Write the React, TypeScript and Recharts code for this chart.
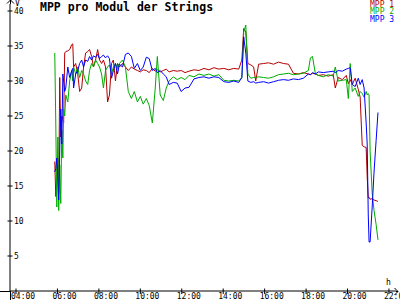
import { LineChart, Line, XAxis, YAxis, Legend } from 'recharts';

// Zeit in Stunden (dezimal)
const hours = [
  5.87, 5.92, 5.97, 6.02, 6.06, 6.11, 6.16, 6.21, 6.26, 6.30, 6.35, 6.40, 6.50, 6.59, 6.69, 6.74, 6.78, 6.88, 6.98,
  7.07, 7.17, 7.26, 7.36, 7.46, 7.55, 7.65, 7.74, 7.84, 7.94, 8.03, 8.13, 8.22, 8.32, 8.42, 8.51, 8.61, 8.70, 8.80,
  8.90, 8.99, 9.14, 9.28, 9.42, 9.57, 9.71, 9.86, 10.00, 10.14, 10.29, 10.43, 10.58, 10.72, 10.82, 10.96, 11.11,
  11.25, 11.39, 11.59, 11.78, 11.97, 12.16, 12.35, 12.59, 12.83, 13.07, 13.31, 13.55, 13.79, 14.03, 14.27, 14.51,
  14.75, 14.90, 14.99, 15.09, 15.19, 15.33, 15.47, 15.57, 15.71, 15.95, 16.19, 16.43, 16.67, 16.91, 17.15, 17.39,
  17.63, 17.87, 18.11, 18.21, 18.31, 18.45, 18.59, 18.83, 19.07, 19.31, 19.41, 19.55, 19.75, 19.94, 20.04, 20.13,
  20.23, 20.37, 20.52, 20.61, 20.71, 20.80, 20.90, 20.95, 21.00, 21.04, 21.09, 21.19, 21.28, 21.38, 21.47,
];

// Spannung in V
const mpp1 = [
  18.5, 13.5, 16, 19, 14, 30.5, 22, 25, 24.5, 24, 34, 34.2, 34.3, 34.5, 35.2, 35.3, 32, 32.5, 31,
  28.5, 29, 32, 34, 34.2, 34.5, 33.5, 32, 33, 34.5, 33, 32.5, 33, 32, 27, 28, 32.5, 33, 30,
  32.5, 32, 32.5, 32, 31.5, 32, 31.7, 31.5, 31.3, 31.6, 31.5, 31.2, 31.8, 31.4, 31.6, 31.3, 31.5,
  31.7, 31.3, 31.5, 31.4, 31.5, 31.2, 31.4, 31.6, 31.5, 31.8, 31.6, 31.9, 31.7, 31.8, 31.6, 31.8,
  31.7, 33, 37.5, 37, 32.5, 32.3, 32, 30, 32.4, 32.5, 32.6, 32.4, 32.7, 32.5, 32.4, 31.1,
  31, 31.2, 31, 30.9, 31.1, 31, 30.8, 30.9, 30.7, 30.9, 29, 30.5, 30.2, 30.8, 29.6, 30.2,
  29.5, 30.4, 28.8, 27.7, 20.8, 20.6, 20.5, 16.3, 13.3, 13.4, 13.1, 13.2, 13, 12.9, 12.8,
];

const mpp2 = [
  34, 24, 12, 22, 11.5, 18, 12.5, 23, 19, 26, 25, 28, 27, 30, 31.5, 30, 32, 31, 32,
  30.5, 31.5, 31, 30, 29.5, 31.5, 32.5, 32, 33, 32.5, 32, 31, 29, 31.5, 32, 32.3, 31, 32, 32.5,
  31.8, 32.5, 33, 32, 28.5, 27.5, 28.5, 27, 27.8, 26.7, 27.5, 26.5, 24, 29, 33.5, 28, 27.2,
  29, 30, 30.6, 30.2, 30.5, 30.2, 30.8, 30.6, 31, 30.8, 31, 30.7, 30.9, 30.1, 30, 30.1,
  30, 30.5, 37, 38, 31, 30.4, 30.5, 30.5, 30.6, 30.5, 30.4, 30.6, 30.9, 31, 31.1, 30.9,
  31, 31.1, 31.5, 33.3, 33.5, 31, 30.8, 30.6, 30.9, 30.7, 32, 30, 30.1, 30.2, 27.5, 32.5,
  28.5, 29, 27.8, 28.5, 28.2, 27.7, 28.5, 28, 28.2, 28, 20, 14, 11.5, 9.5, 7.3,
];

const mpp3 = [
  17, 17.5, 19, 16, 13, 20, 26, 21, 31, 30, 28.5, 29, 32, 30.5, 31.5, 31.8, 29, 31, 31.5,
  32.5, 33, 32, 33, 32.8, 33.5, 33, 33.6, 33.4, 33.8, 33.2, 33.5, 33.7, 33.3, 33.6, 33.2, 30.4, 31.5, 32.5,
  31, 32.4, 32, 33.8, 34, 33.5, 31.8, 32.5, 31.5, 32, 33.4, 33.2, 31.5, 31.8, 31.2, 31.5, 31,
  30.6, 29.5, 29.8, 29.7, 28.5, 29, 29.1, 30.3, 30.5, 30.6, 30.4, 30.6, 30.5, 29.9, 29.8, 30,
  29.8, 30.5, 36.3, 34, 30, 29.8, 29.9, 29.7, 29.8, 29.9, 29.7, 29.9, 30.1, 30.2, 30.1, 30.3,
  30.2, 30.4, 31, 30.9, 31.2, 31, 31.3, 31.2, 31.3, 31.4, 31.2, 31.5, 31.4, 31.7, 31.8, 31.9,
  29.5, 29.2, 30.4, 29.5, 30.2, 29, 24, 21, 11, 7, 7, 12, 17, 21.5, 25.5,
];

const xTicks = [4, 6, 8, 10, 12, 14, 16, 18, 20, 22];
const yTicks = [5, 10, 15, 20, 25, 30, 35, 40];

const data = hours.map((t, i) => ({ t, mpp1: mpp1[i], mpp2: mpp2[i], mpp3: mpp3[i] }));

const FONT = '"DejaVu Sans Mono", monospace';

const XTick = (props: any) => {
  const { x, y, payload } = props;
  return (
    <g>
      <line x1={x} x2={x} y1={y - 2.5} y2={y + 3} stroke="#000" />
      <text x={x - 5} y={y + 8} fontSize={8} fontFamily={FONT} fill="#000">
        {String(payload.value).padStart(2, '0')}:00
      </text>
    </g>
  );
};

const YTick = (props: any) => {
  const { x, y, payload } = props;
  return (
    <g>
      <line x1={x - 2.5} x2={x + 2.5} y1={y} y2={y} stroke="#000" />
      <text x={x + 4} y={y + 3} fontSize={8} fontFamily={FONT} fill="#000">
        {payload.value}
      </text>
    </g>
  );
};

const LegendBox = (props: any) => (
  <div style={{ fontFamily: FONT, fontSize: 8, lineHeight: '7.5px', textAlign: 'left' }}>
    {(props.payload || []).map((e: any) => (
      <div key={e.value} style={{ color: e.color, whiteSpace: 'pre' }}>{e.value}</div>
    ))}
  </div>
);

export default function App() {
  return (
    <div style={{ position: 'absolute', left: 0, top: 0, width: 400, height: 300, background: '#fff' }}>
      <LineChart width={400} height={300} data={data} margin={{ top: 4, right: 4, left: 0, bottom: 0 }}>
        <XAxis
          dataKey="t"
          type="number"
          domain={[3.71, 22.34]}
          ticks={xTicks}
          height={9}
          tickSize={0}
          tickMargin={0}
          tickLine={false}
          axisLine={{ stroke: '#000' }}
          tick={<XTick />}
          allowDataOverflow
        />
        <YAxis
          type="number"
          domain={[0, 41]}
          ticks={yTicks}
          width={10}
          tickSize={0}
          tickMargin={0}
          tickLine={false}
          axisLine={{ stroke: '#000' }}
          tick={<YTick />}
          allowDataOverflow
        />
        <Legend
          layout="vertical"
          verticalAlign="middle"
          align="center"
          content={<LegendBox />}
          wrapperStyle={{ top: 0.5, left: 370, width: 30, height: 24 }}
        />
        <Line dataKey="mpp1" name="MPP 1" stroke="#b40000" strokeWidth={1} dot={false} isAnimationActive={false} />
        <Line dataKey="mpp2" name="MPP 2" stroke="#00aa00" strokeWidth={1} dot={false} isAnimationActive={false} />
        <Line dataKey="mpp3" name="MPP 3" stroke="#0000ff" strokeWidth={1} dot={false} isAnimationActive={false} />
      </LineChart>
      <div
        style={{
          position: 'absolute', left: 40, top: 0, fontFamily: FONT, fontWeight: 'bold',
          fontSize: 11.5, lineHeight: '14px', whiteSpace: 'pre',
        }}
      >
        MPP pro Modul der Strings
      </div>
      <svg width={400} height={300} style={{ position: 'absolute', left: 0, top: 0, pointerEvents: 'none' }}>
        <g stroke="#000" fill="none">
          <line x1={0} x2={10} y1={291.5} y2={291.5} />
          <line x1={396} x2={398} y1={291.5} y2={291.5} />
          <line x1={10.5} x2={10.5} y1={0} y2={4} />
          <line x1={10.5} x2={10.5} y1={291} y2={300} />
          <polyline points="7,3.5 10.5,0 14,3.5" />
          <polyline points="394.5,288 398,291.5 394.5,295" />
        </g>
        <text x={15} y={6} fontSize={8} fontFamily={FONT}>V</text>
        <text x={386} y={285} fontSize={8} fontFamily={FONT}>h</text>
      </svg>
    </div>
  );
}
